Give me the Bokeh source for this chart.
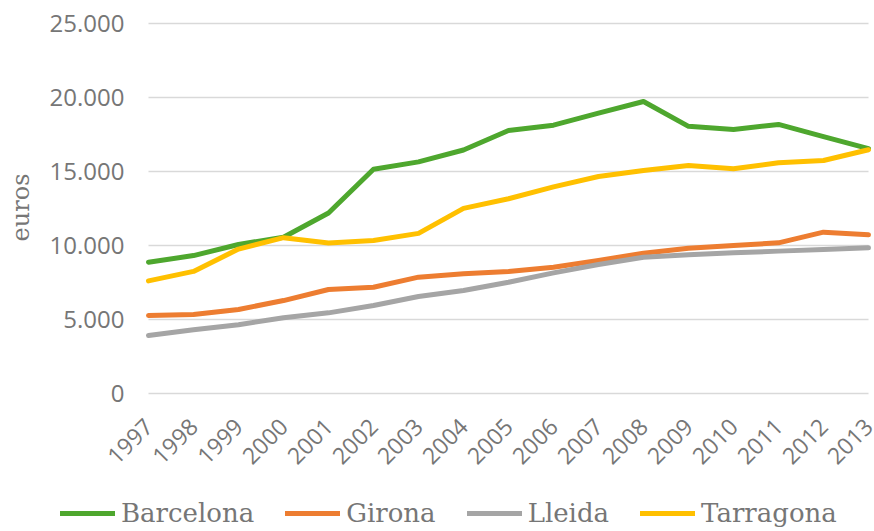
import math
from bokeh.plotting import figure
from bokeh.models import (Range1d, FixedTicker, CustomJSTickFormatter, Legend, LegendItem, Label)
from bokeh.embed import file_html
from bokeh.resources import INLINE

years = list(range(1997, 2014))
barcelona = [8870, 9320, 10070, 10560, 12200, 15150, 15650, 16450, 17770, 18130, 18950, 19730, 18050, 17840, 18180, 17360, 16550]
girona = [5270, 5340, 5680, 6280, 7030, 7180, 7860, 8090, 8240, 8530, 8990, 9480, 9820, 10000, 10180, 10900, 10720]
lleida = [3920, 4310, 4650, 5120, 5450, 5950, 6550, 6960, 7520, 8150, 8720, 9210, 9370, 9510, 9620, 9730, 9840]
tarragona = [7610, 8250, 9760, 10530, 10170, 10340, 10820, 12510, 13160, 13960, 14660, 15070, 15410, 15180, 15590, 15740, 16470]
y_ticks = [0, 5000, 10000, 15000, 20000, 25000]

names = ["Barcelona", "Girona", "Lleida", "Tarragona"]
colors = ["#4EA72E", "#ED7D31", "#A5A5A5", "#FFC000"]
series = [barcelona, girona, lleida, tarragona]
text_color = "#767676"

# frame covers the whole canvas; axes are drawn at fixed data locations
p = figure(width=874, height=531, output_backend="svg", toolbar_location=None,
           x_range=Range1d(1993.7111, 2013.1333), y_range=Range1d(-9324, 26554))
p.min_border_left = 0
p.min_border_right = 0
p.min_border_top = 0
p.min_border_bottom = 0
p.outline_line_color = None
p.background_fill_color = "white"
p.border_fill_color = "white"

renderers = []
for name, col, vals in zip(names, colors, series):
    r = p.line(years, vals, line_color=col, line_width=5, line_join="round", line_cap="round")
    renderers.append((name, r))

# y axis
p.yaxis.fixed_location = years[0]
p.yaxis.ticker = FixedTicker(ticks=y_ticks)
p.yaxis.formatter = CustomJSTickFormatter(code="return tick.toString().replace(/\\B(?=(\\d{3})+(?!\\d))/g, '.');")
p.yaxis.axis_line_color = None
p.yaxis.major_tick_line_color = None
p.yaxis.minor_tick_line_color = None
p.yaxis.major_label_text_font = "Open Sans"
p.yaxis.major_label_text_font_size = "24px"
p.yaxis.major_label_text_color = text_color
p.yaxis.major_label_standoff = 18

# x axis
p.xaxis.fixed_location = 0
p.xaxis.ticker = FixedTicker(ticks=years)
p.xaxis.axis_line_color = None
p.xaxis.major_tick_line_color = None
p.xaxis.minor_tick_line_color = None
p.xaxis.major_label_orientation = math.pi / 4
p.xaxis.major_label_text_font = "Open Sans"
p.xaxis.major_label_text_font_size = "23px"
p.xaxis.major_label_text_color = text_color
p.xaxis.major_label_standoff = 23

p.xgrid.grid_line_color = None
p.ygrid.grid_line_color = "#D9D9D9"
p.ygrid.grid_line_width = 1.5
p.ygrid.ticker = FixedTicker(ticks=y_ticks)
try:
    p.ygrid[0].cross_bounds = (years[0], years[-1])
except Exception:
    pass

# y axis title
ylab = Label(x=20, y=324, x_units="screen", y_units="screen", text="euros",
             angle=math.pi / 2, text_align="center", text_baseline="middle",
             text_font="DejaVu Serif", text_font_size="24px", text_color=text_color)
p.add_layout(ylab)

legend = Legend(items=[LegendItem(label=n, renderers=[r]) for n, r in renderers],
                orientation="horizontal", location=(60, 3))
legend.label_text_font = "DejaVu Serif"
legend.label_text_font_size = "26px"
legend.label_text_color = text_color
legend.glyph_width = 55
legend.glyph_height = 20
legend.label_standoff = 6
legend.spacing = 31
legend.padding = 0
legend.margin = 0
legend.border_line_color = None
legend.background_fill_alpha = 0
p.add_layout(legend, "center")

open("out.html", "w").write(file_html(p, INLINE))
